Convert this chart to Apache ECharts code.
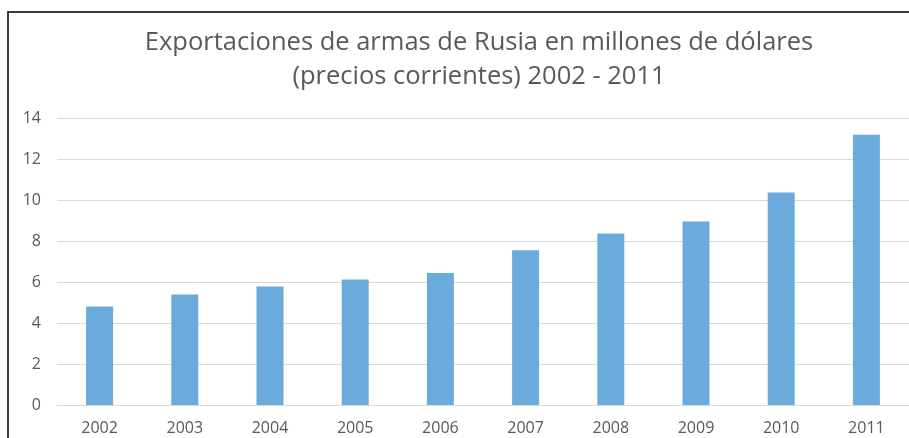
<!DOCTYPE html>
<html>
<head>
<meta charset="utf-8">
<script src="https://cdn.jsdelivr.net/npm/echarts@6/dist/echarts.min.js"></script>
<style>
  html, body { margin: 0; padding: 0; background: #fff; }
  #chart { width: 909px; height: 438px; }
</style>
</head>
<body>
<div id="chart"></div>
<script>
// Annual values, millions of dollars (current prices)
const years = ['2002', '2003', '2004', '2005', '2006', '2007', '2008', '2009', '2010', '2011'];
const exportsValue = [4.8, 5.39, 5.78, 6.12, 6.44, 7.55, 8.37, 8.95, 10.36, 13.18];
const yTicks = { min: 0, max: 14, step: 2 };

const chart = echarts.init(document.getElementById('chart'));
const font = 'Open Sans';
chart.setOption({
  animation: false,
  title: {
    text: 'Exportaciones de armas de Rusia en millones de dólares\n(precios corrientes) 2002 - 2011',
    left: 474,
    top: 21,
    textAlign: 'center',
    textStyle: { fontFamily: font, fontSize: 25.5, fontWeight: 'normal', color: '#595959', lineHeight: 34 }
  },
  graphic: [{
    type: 'rect',
    shape: { x: 8, y: 12, width: 920, height: 440 },
    style: { fill: 'none', stroke: '#3a3a3a', lineWidth: 2 },
    silent: true
  }],
  grid: { left: 57, right: -3, top: 118, bottom: 33 },
  xAxis: {
    type: 'category',
    data: years,
    axisLine: { show: true, lineStyle: { color: '#d9d9d9', width: 1 } },
    axisTick: { show: false },
    axisLabel: { fontFamily: font, fontSize: 16, color: '#595959', margin: 15 }
  },
  yAxis: {
    type: 'value',
    min: yTicks.min,
    max: yTicks.max,
    interval: yTicks.step,
    axisLine: { show: false },
    axisTick: { show: false },
    splitLine: { lineStyle: { color: '#d9d9d9', width: 1 } },
    axisLabel: { fontFamily: font, fontSize: 16, color: '#595959', margin: 16, align: 'right' }
  },
  series: [{
    type: 'bar',
    data: exportsValue,
    barWidth: 27,
    itemStyle: { color: '#6aabdc' }
  }]
});
</script>
</body>
</html>
